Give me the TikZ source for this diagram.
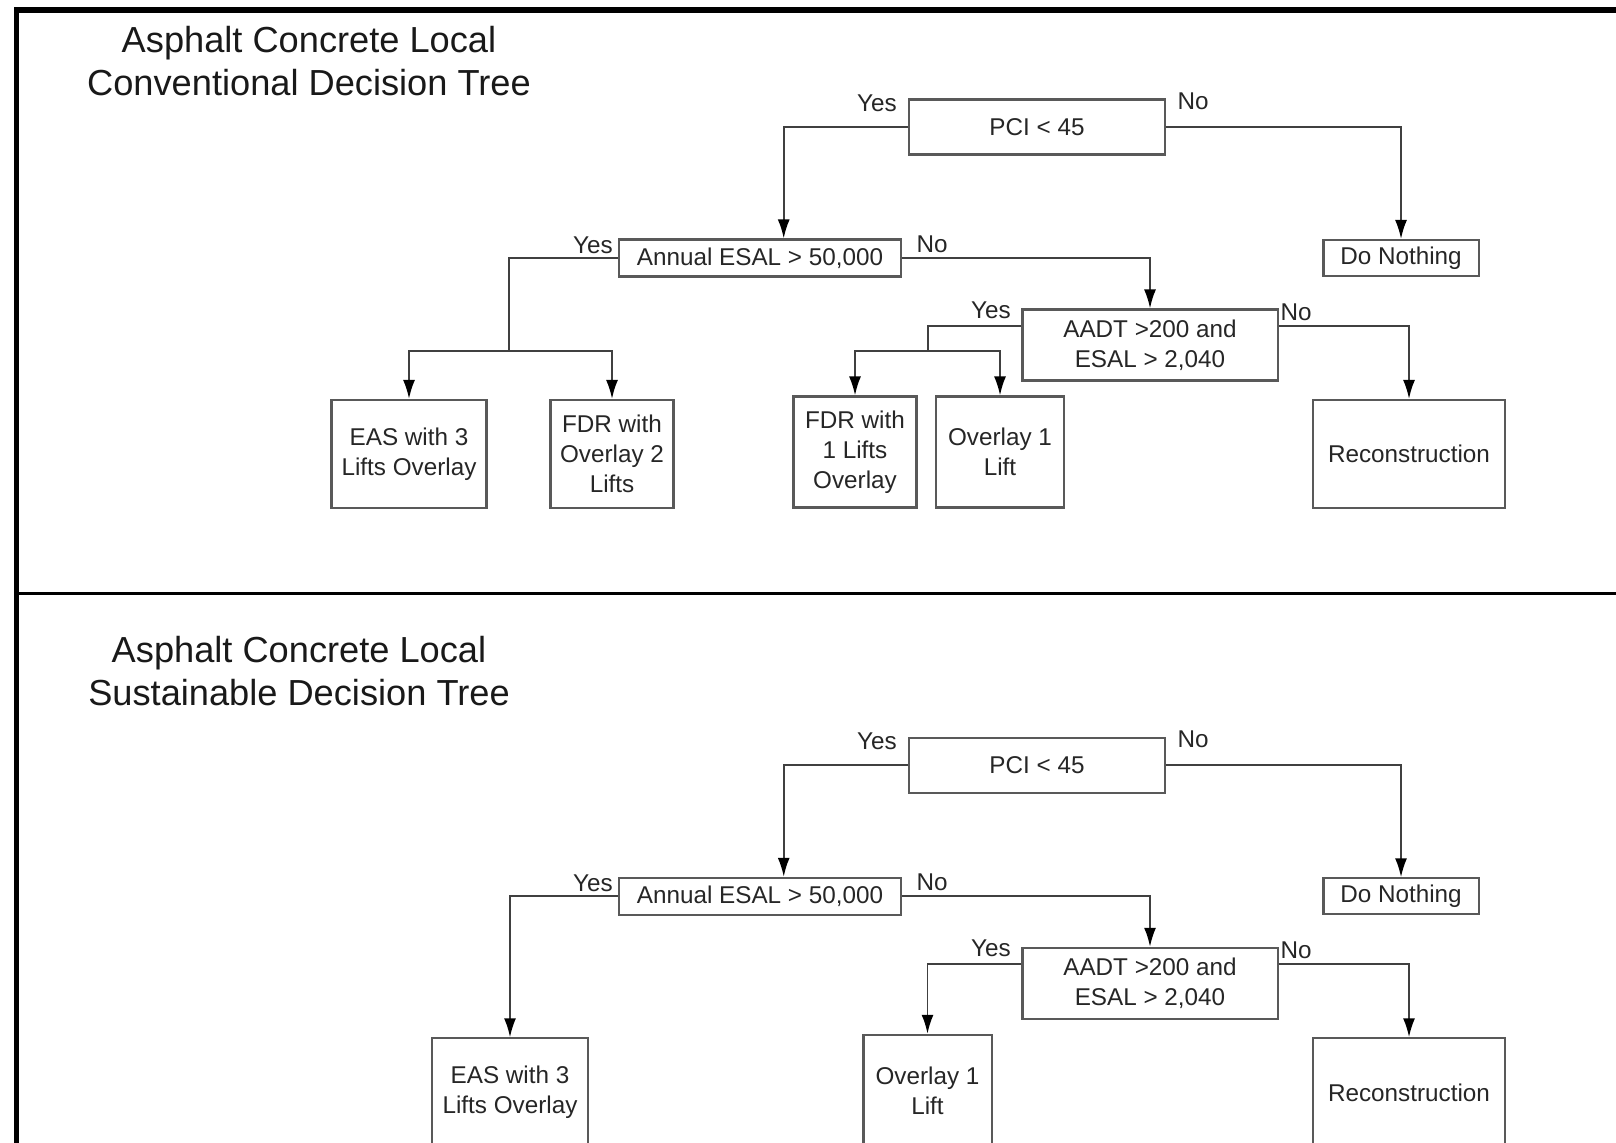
\documentclass[tikz,border=0pt]{standalone}
\usepackage{fontspec}
\setmainfont{Liberation Sans}
\usepackage{tikz}
\usetikzlibrary{arrows.meta}

\begin{document}
\begin{tikzpicture}[x=0.01cm,y=-0.01cm,
  line/.style={draw=black!75,line width=0.55pt},
  arrow/.style={line,-{Latex[length=1.9mm,width=1.2mm,black]}}]

    \tikzstyle{test} = [rectangle,draw=black!65,line width=0.6pt,inner sep=0pt,text=black!85,font=\fontsize{6.9}{8.5}\selectfont,align=center]
    \tikzstyle{result} = [test]
    \tikzstyle{answer} = [inner sep=0pt,text=black!85,font=\fontsize{6.9}{8.5}\selectfont]
    \tikzstyle{title} = [inner sep=0pt,text=black!90,font=\fontsize{10.3}{12.3}\selectfont,align=center]

  \useasboundingbox (0,0) rectangle (1616,1142);

  % frame and divider
  \draw[line width=1.7pt] (16.5,1150) |- (1620,10);
  \draw[line width=1.1pt] (16.5,593.5) -- (1620,593.5);

  % conventional tree
  \node[title] (head1) at (309,61) {Asphalt Concrete Local\\Conventional Decision Tree};

  \node[test,minimum width=2.55cm,minimum height=0.55cm] (pci1) at (1037,127) {PCI < 45};
  \node[result,minimum width=1.55cm,minimum height=0.36cm] (none1) at (1401,258) {Do Nothing};
  \node[test,minimum width=2.82cm,minimum height=0.37cm] (esal1) at (760,258) {Annual ESAL > 50,000};
  \node[test,minimum width=2.55cm,minimum height=0.71cm] (aadt1) at (1150,345) {AADT >200 and\\ESAL > 2,040};
  \node[result,minimum width=1.55cm,minimum height=1.08cm] (eas1) at (409,454) {EAS with 3\\Lifts Overlay};
  \node[result,minimum width=1.23cm,minimum height=1.08cm] (fdr1) at (612,454) {FDR with\\Overlay 2\\Lifts};
  \node[result,minimum width=1.23cm,minimum height=1.11cm] (fdrone1) at (855,452) {FDR with\\1 Lifts\\Overlay};
  \node[result,minimum width=1.28cm,minimum height=1.11cm] (lift1) at (1000,452) {Overlay 1\\Lift};
  \node[result,minimum width=1.92cm,minimum height=1.08cm] (recon1) at (1409,454) {Reconstruction};

  \coordinate (split1) at (509,351);
  \coordinate (split3) at (928,351);

  \draw[arrow] (pci1.west) -| ([xshift=0.237cm]esal1.north);
  \draw[arrow] (pci1.east) -| (none1.north);
  \draw[line] (esal1.west) -| (split1);
  \draw[arrow] (split1) -| (eas1.north);
  \draw[arrow] (split1) -| (fdr1.north);
  \draw[arrow] (esal1.east) -| (aadt1.north);
  \draw[line] ([yshift=0.19cm]aadt1.west) -| (split3);
  \draw[arrow] (split3) -| (fdrone1.north);
  \draw[arrow] (split3) -| (lift1.north);
  \draw[arrow] ([yshift=0.19cm]aadt1.east) -| (recon1.north);

  \node[answer] (yes1) at (877,103) {Yes};
  \node[answer] (no1) at (1193,101) {No};
  \node[answer] (yes2) at (593,245) {Yes};
  \node[answer] (no2) at (932,244) {No};
  \node[answer] (yes3) at (991,310) {Yes};
  \node[answer] (no3) at (1296,312) {No};

  % sustainable tree
  \node[title] (head2) at (299,671) {Asphalt Concrete Local\\Sustainable Decision Tree};

  \begin{scope}[yshift=-6.38cm]
  \node[test,minimum width=2.55cm,minimum height=0.55cm] (pci2) at (1037,127) {PCI < 45};
  \node[result,minimum width=1.55cm,minimum height=0.36cm] (none2) at (1401,258) {Do Nothing};
  \node[test,minimum width=2.82cm,minimum height=0.37cm] (esal2) at (760,258) {Annual ESAL > 50,000};
  \node[test,minimum width=2.55cm,minimum height=0.71cm] (aadt2) at (1150,345) {AADT >200 and\\ESAL > 2,040};
  \node[result,minimum width=1.56cm,minimum height=1.08cm] (eas2) at (510,454) {EAS with 3\\Lifts Overlay};
  \node[result,minimum width=1.28cm,minimum height=1.11cm] (lift2) at (927.5,452) {Overlay 1\\Lift};
  \node[result,minimum width=1.92cm,minimum height=1.08cm] (recon2) at (1409,454) {Reconstruction};

  \draw[arrow] (pci2.west) -| ([xshift=0.237cm]esal2.north);
  \draw[arrow] (pci2.east) -| (none2.north);
  \draw[arrow] (esal2.west) -| (eas2.north);
  \draw[arrow] (esal2.east) -| (aadt2.north);
  \draw[arrow] ([yshift=0.19cm]aadt2.west) -| (lift2.north);
  \draw[arrow] ([yshift=0.19cm]aadt2.east) -| (recon2.north);

  \node[answer] (yes4) at (877,103) {Yes};
  \node[answer] (no4) at (1193,101) {No};
  \node[answer] (yes5) at (593,245) {Yes};
  \node[answer] (no5) at (932,244) {No};
  \node[answer] (yes6) at (991,310) {Yes};
  \node[answer] (no6) at (1296,312) {No};
  \end{scope}

\end{tikzpicture}
\end{document}
